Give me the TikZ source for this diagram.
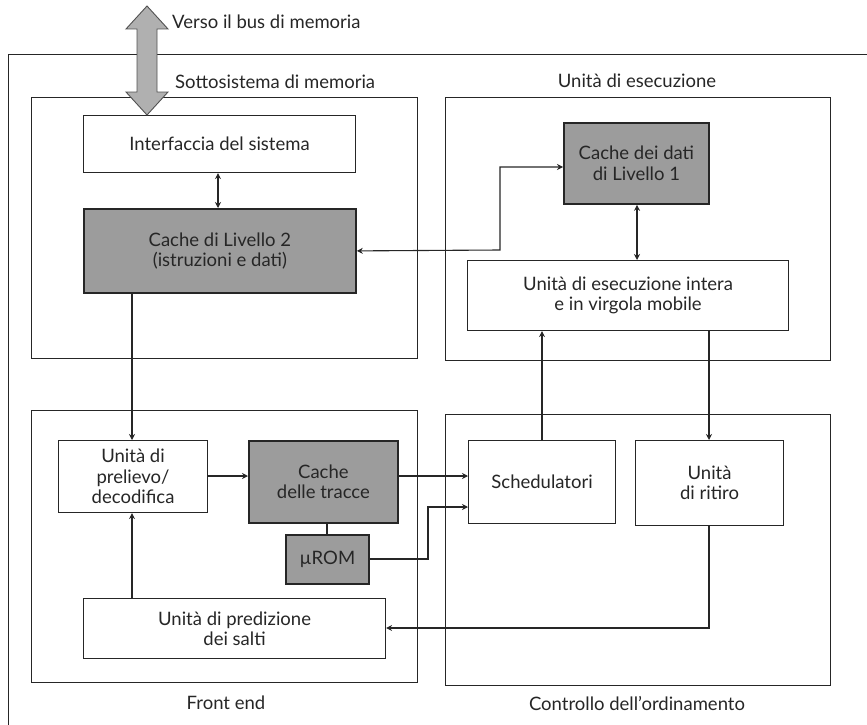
\documentclass[tikz,border=0pt]{standalone}
\usepackage{fontspec}
\setmainfont{Lato}
\usetikzlibrary{arrows.meta}
\definecolor{boxgray}{HTML}{9C9C9C}
\definecolor{busgray}{HTML}{B0B0B0}
\definecolor{ink}{HTML}{262626}
\tikzset{
  frame/.style={draw=ink, line width=1pt},
  unit/.style={draw=ink, line width=1.1pt, fill=white, align=center, anchor=north west, inner sep=0pt, text=ink, font=\fontsize{18.5}{20.5}\selectfont},
  grayunit/.style={unit, fill=boxgray, line width=1.8pt},
  lbl/.style={text=ink, font=\fontsize{18.5}{20.5}\selectfont, inner sep=0pt},
  conn/.style={draw=ink, line width=1.1pt},
  tip/.style={-{Stealth[length=6pt,width=6pt]}},
  tips/.style={{Stealth[length=6pt,width=6pt]}-{Stealth[length=6pt,width=6pt]}},
}
\begin{document}
\begin{tikzpicture}[x=1pt,y=-1pt]
\useasboundingbox (0,0) rectangle (867,725);
% outer frame (open to the right and bottom)
\draw[frame] (8,725) -- (8,55) -- (867,55);
% group frames
\draw[frame] (31,97) rectangle (417,358);
\draw[frame] (445,97) rectangle (830,360);
\draw[frame] (31,410) rectangle (417,682);
\draw[frame] (445,414) rectangle (830,685);
% labels
\node[lbl, anchor=west] (lbus) at (172,22) {Verso il bus di memoria};
\node[lbl, anchor=west] (lmem) at (175,82) {Sottosistema di memoria};
\node[lbl] (lexe) at (637,81) {Unità di esecuzione};
\node[lbl] (lfe) at (226,703) {Front end};
\node[lbl] (lord) at (637,703) {Controllo dell’ordinamento};
% units
\node[unit, minimum width=272pt, minimum height=57pt] (sif) at (83,115) {Interfaccia del sistema};
\node[grayunit, minimum width=272pt, minimum height=84pt] (l2) at (83,208) {Cache di Livello 2\\(istruzioni e dati)};
\node[grayunit, minimum width=145pt, minimum height=81pt] (l1) at (563,122) {Cache dei dati\\di Livello 1};
\node[unit, minimum width=321pt, minimum height=70pt] (exu) at (467,260) {Unità di esecuzione intera\\e in virgola mobile};
\node[unit, minimum width=149pt, minimum height=72pt] (fd) at (58,440) {Unità di\\prelievo/\\decodifica};
\node[grayunit, minimum width=149pt, minimum height=82pt] (tc) at (248,440) {Cache\\delle tracce};
\node[grayunit, minimum width=83pt, minimum height=49pt] (rom) at (285,534) {µROM};
\node[unit, minimum width=302pt, minimum height=60pt] (bp) at (83,598) {Unità di predizione\\dei salti};
\node[unit, minimum width=147pt, minimum height=83pt] (sch) at (468,440) {Schedulatori};
\node[unit, minimum width=148pt, minimum height=85pt] (ret) at (635,440) {Unità\\di ritiro};
% big bus arrow
\filldraw[fill=busgray, draw=ink!80, line width=0.9pt]
  (147,6) -- (168,29) -- (157,29) -- (157,92) -- (168,92) -- (147,115)
  -- (126,92) -- (137,92) -- (137,29) -- (126,29) -- cycle;
% connectors
\draw[conn, tips] (sif.south -| 218,0) -- (l2.north -| 218,0);
\draw[conn, tips] (l2.east) -- (500,250) -- (500,167) -- (l1.west |- 0,167);
\draw[conn, tips] (l1.south -| 637,0) -- (exu.north -| 637,0);
\draw[conn, tip] (l2.south -| 132,0) -- (fd.north -| 132,0);
\draw[conn, tip] (bp.north -| 132,0) -- (fd.south -| 132,0);
\draw[conn, tip] (fd.east |- 0,476) -- (tc.west |- 0,476);
\draw[conn, tip] (tc.east |- 0,476) -- (sch.west |- 0,476);
\draw[conn] (tc.south -| 327,0) -- (rom.north -| 327,0);
\coordinate (r1) at (428,559);
\coordinate (r2) at (428,507);
\draw[conn, tip] (rom.east |- r1) -- (r1) -- (r2) -- (sch.west |- r2);
\draw[conn, tip] (sch.north -| 542,0) -- (exu.south -| 542,0);
\draw[conn, tip] (exu.south -| 709,0) -- (ret.north -| 709,0);
\coordinate (b1) at (709,628);
\draw[conn, tip] (ret.south -| b1) -- (b1) -- (bp.east |- b1);
\end{tikzpicture}
\end{document}
